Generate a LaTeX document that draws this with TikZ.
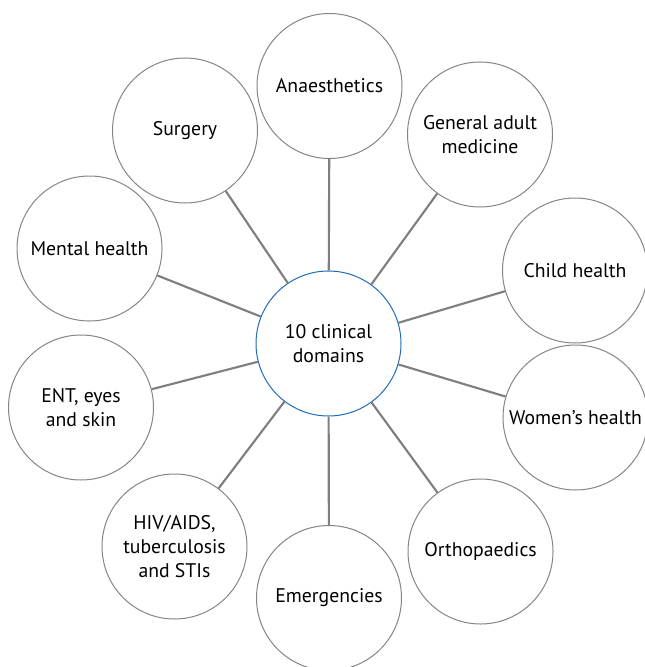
\documentclass[tikz,border=0pt]{standalone}
\usepackage{fontspec}
\setmainfont{PT Sans}
\usepackage{tikz}
\usetikzlibrary{positioning}
\usepackage{xcolor}

\definecolor{ringgray}{HTML}{858585}
\definecolor{spokegray}{HTML}{7F7F7F}
\definecolor{hubblue}{HTML}{1F6DB5}

\tikzset{
  specialty/.style={circle, draw=ringgray, line width=0.75pt, fill=white,
    minimum size=108.75pt, inner sep=0pt, align=center,
    font=\fontsize{14.8}{18}\selectfont},
  hub/.style={specialty, draw=hubblue},
  spoke/.style={draw=spokegray, line width=1.6pt}
}

\begin{document}
\begin{tikzpicture}[x=0.75pt,y=-0.75pt]
        \useasboundingbox (0,0) rectangle (644,667);

        % Centre circle
        \node[hub] (centre) at (328.5,343.5) {10 clinical\\domains};

        % Domain circles, clockwise from the top
        \node[specialty] (anaes) at (329.5,86) {Anaesthetics};
        \node[specialty] (adult) at (480,134.5) {General adult\\medicine};
        \node[specialty] (child) at (575,270.5) {Child health};
        \node[specialty] (women) at (575.5,417.5) {Women’s health};
        \node[specialty] (ortho) at (480.5,551.5) {Orthopaedics};
        \node[specialty] (emerg) at (329,598) {Emergencies};
        \node[specialty] (hiv) at (174.5,546.5) {HIV/AIDS,\\tuberculosis\\and STIs};
        \node[specialty] (ent) at (81,407.5) {ENT, eyes\\and skin};
        \node[specialty] (mental) at (89.5,248.5) {Mental health};
        \node[specialty] (surgery) at (185,130.5) {Surgery};

        % Spokes
        \foreach \d in {anaes,adult,child,women,ortho,emerg,hiv,ent,mental,surgery}
            \draw[spoke] (centre) -- (\d);
\end{tikzpicture}
\end{document}
